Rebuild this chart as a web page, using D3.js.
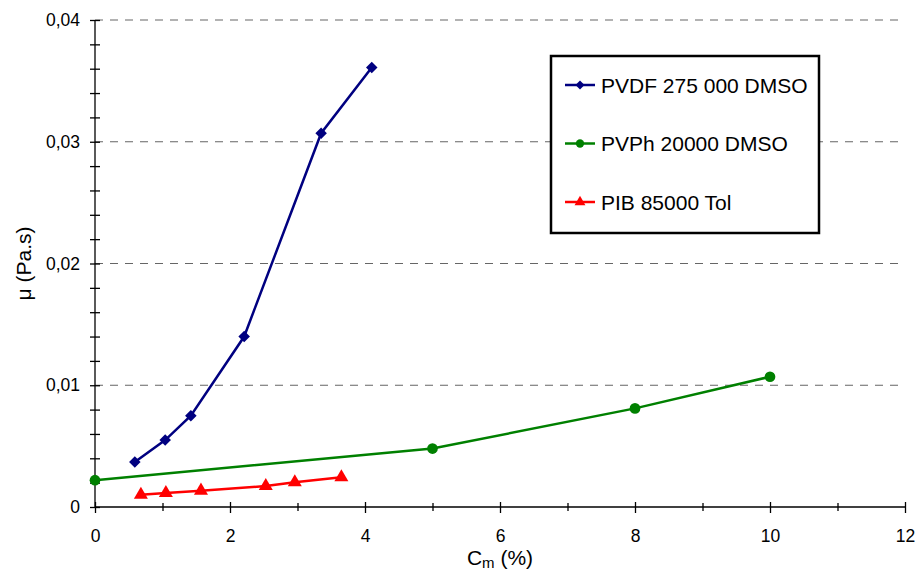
<!DOCTYPE html>
<html>
<head>
<meta charset="utf-8">
<script src="https://cdn.jsdelivr.net/npm/d3@7"></script>
<style>
	body { margin: 0; background: #fff; }
	svg { display: block; font-family: "Liberation Sans", Arial, sans-serif; }
	.axis path, .axis line { stroke: #000; stroke-width: 1.3; }
	.axis text { font-size: 17.5px; fill: #000; }
	.grid line { stroke: #666; stroke-width: 1.2; stroke-dasharray: 8 7; }
</style>
</head>
<body>
<svg></svg>
<script>
// series data
const seriesNames = ['PVDF 275 000 DMSO', 'PVPh 20000 DMSO', 'PIB 85000 Tol']
const pvdfX = [0.59, 1.04, 1.42, 2.21, 3.35, 4.10]
const pvdfY = [0.0037, 0.0055, 0.0075, 0.0140, 0.0307, 0.0361]
const pvphX = [0, 5, 8, 10]
const pvphY = [0.0022, 0.0048, 0.0081, 0.0107]
const pibX = [0.68, 1.05, 1.57, 2.53, 2.96, 3.65]
const pibY = [0.0010, 0.00115, 0.00134, 0.00172, 0.00203, 0.00244]

const xTicks = [0, 1, 2, 3, 4, 5, 6, 7, 8, 9, 10, 11, 12]
const yTicks = [0, 0.002, 0.004, 0.006, 0.008, 0.01, 0.012, 0.014, 0.016, 0.018,
	0.02, 0.022, 0.024, 0.026, 0.028, 0.03, 0.032, 0.034, 0.036, 0.038, 0.04]
const yGrid = [0.01, 0.02, 0.03, 0.04]

const W = 916, H = 573
const margin = {top: 20, right: 11, bottom: 66, left: 95},
	width = W - margin.left - margin.right,
	height = H - margin.top - margin.bottom;

const colors = ['#000080', '#008000', '#ff0000']
const shapes = [d3.symbolDiamond2, d3.symbolCircle, d3.symbolTriangle]
const symSize = [85, 90, 85]

const fr = d3.formatLocale({decimal: ',', thousands: ' ', grouping: [3], currency: ['', '']})
const fmtY = d => d === 0 ? '0' : fr.format('.2f')(d)

const x = d3.scaleLinear().domain([0, 12]).range([0, width])
const y = d3.scaleLinear().domain([0, 0.04]).range([height, 0])

const svg = d3.select('svg')
	.attr('width', W)
	.attr('height', H)
	.append('g')
	.attr('transform', `translate(${margin.left},${margin.top})`)

// dashed grid lines
svg.append('g')
	.attr('class', 'grid')
	.selectAll('line')
	.data(yGrid).enter()
	.append('line')
	.attr('x1', 0)
	.attr('x2', width)
	.attr('y1', d => y(d))
	.attr('y2', d => y(d))

// Y axis
const isMajorY = d => Math.abs(d * 100 - Math.round(d * 100)) < 1e-6
const gy = svg.append('g')
	.attr('class', 'axis')
	.call(d3.axisLeft(y).tickValues(yTicks).tickSize(5).tickPadding(10)
		.tickFormat(d => isMajorY(d) ? fmtY(d) : ''))
gy.select('.domain').attr('d', `M0,${height}V0`)
gy.selectAll('.tick line').attr('x1', 5)

// X axis
const gx = svg.append('g')
	.attr('class', 'axis')
	.attr('transform', `translate(0,${height})`)
	.call(d3.axisBottom(x).tickValues(xTicks).tickSize(6).tickPadding(17)
		.tickFormat(d => d % 2 === 0 ? d : ''))
gx.select('.domain').attr('d', `M0,0H${width}`)
gx.selectAll('.tick line')
	.attr('y1', d => d % 2 === 0 ? -5 : -4)
	.attr('y2', d => d % 2 === 0 ? 6 : 4)

// axis titles
svg.append('text')
	.attr('transform', `translate(-64,${height / 2}) rotate(-90)`)
	.attr('text-anchor', 'middle')
	.style('font-size', '21px')
	.text('μ (Pa.s)')
const xt = svg.append('text')
	.attr('x', width / 2)
	.attr('y', height + 58)
	.attr('text-anchor', 'middle')
	.style('font-size', '21px')
xt.append('tspan').text('C')
xt.append('tspan').attr('dy', 3).style('font-size', '15px').text('m')
xt.append('tspan').attr('dy', -3).text(' (%)')

// series
const series = [
	pvdfX.map((v, i) => ({x: v, y: pvdfY[i]})),
	pvphX.map((v, i) => ({x: v, y: pvphY[i]})),
	pibX.map((v, i) => ({x: v, y: pibY[i]})),
]
const line = d3.line().x(d => x(d.x)).y(d => y(d.y))

series.forEach((s, k) => {
	svg.append('path')
		.datum(s)
		.attr('d', line)
		.attr('fill', 'none')
		.attr('stroke', colors[k])
		.attr('stroke-width', 2.5)
	svg.selectAll('.pt' + k)
		.data(s).enter()
		.append('path')
		.attr('class', 'pt' + k)
		.attr('transform', d => `translate(${x(d.x)},${y(d.y)})`)
		.attr('d', d3.symbol(shapes[k], symSize[k]))
		.attr('fill', colors[k])
})

// legend
const lg = svg.append('g').attr('transform', `translate(${551 - margin.left},${56 - margin.top})`)
lg.append('rect')
	.attr('width', 268)
	.attr('height', 177)
	.attr('fill', '#fff')
	.attr('stroke', '#000')
	.attr('stroke-width', 2.5)
seriesNames.forEach((name, k) => {
	const yy = 29 + k * 58.5
	lg.append('line')
		.attr('x1', 14).attr('x2', 44)
		.attr('y1', yy).attr('y2', yy)
		.attr('stroke', colors[k])
		.attr('stroke-width', 2.5)
	lg.append('path')
		.attr('transform', `translate(29,${yy})`)
		.attr('d', d3.symbol(shapes[k], symSize[k] * 0.6))
		.attr('fill', colors[k])
	lg.append('text')
		.attr('x', 50)
		.attr('y', yy)
		.attr('dy', '0.36em')
		.style('font-size', '21px')
		.text(name)
})
</script>
</body>
</html>
